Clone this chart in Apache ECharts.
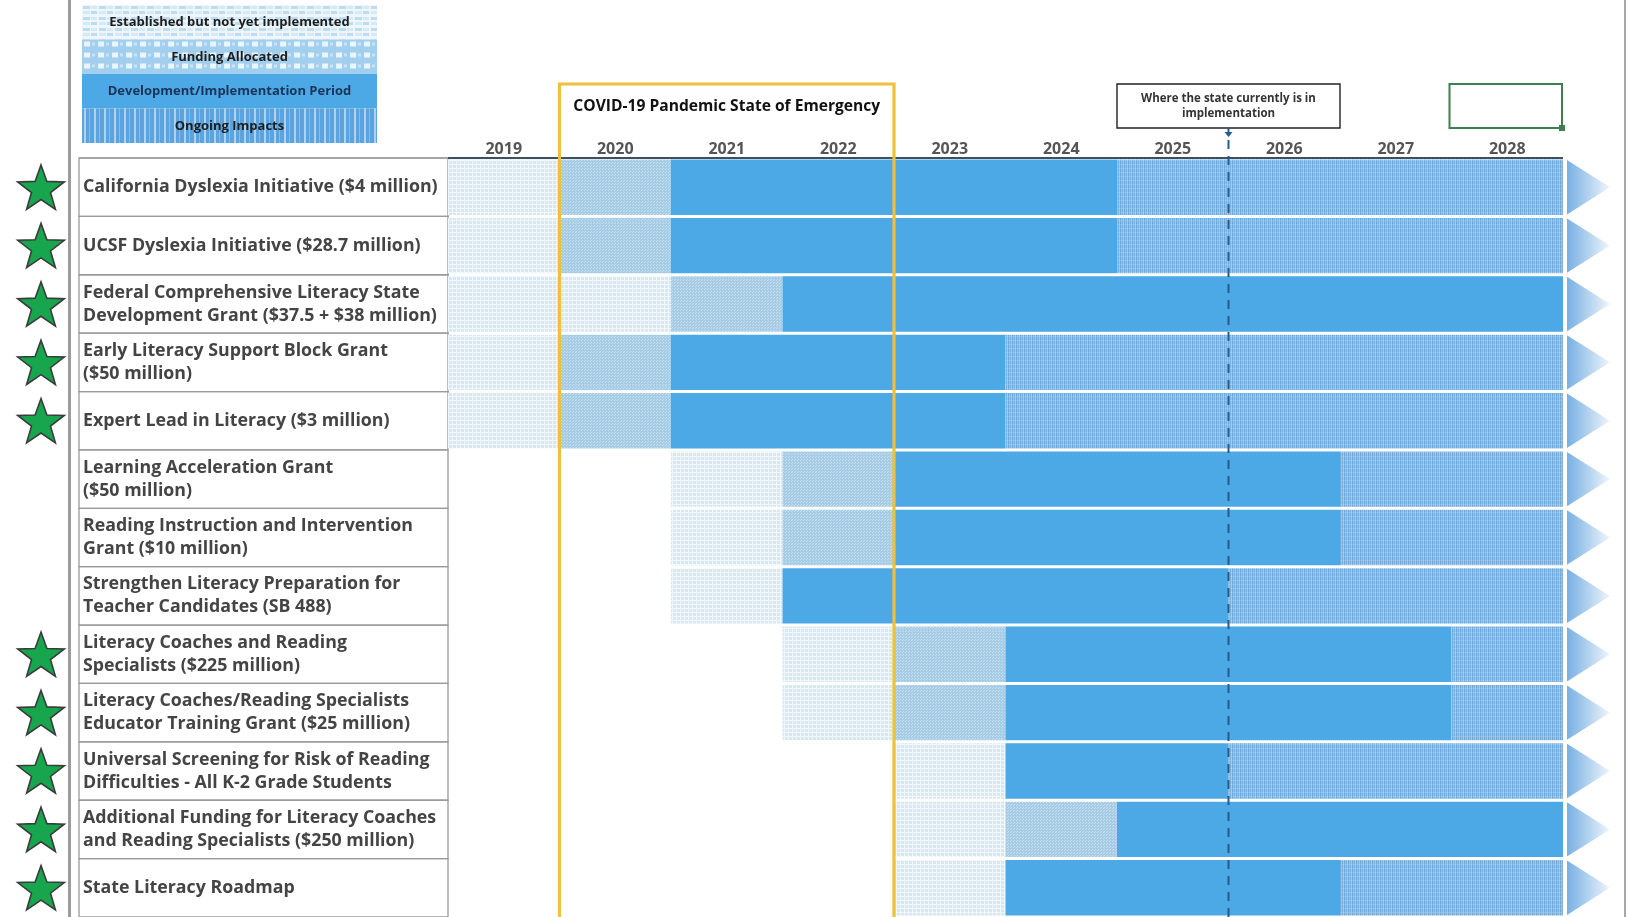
<!DOCTYPE html>
<html><head><meta charset="utf-8">
<script src="https://cdn.jsdelivr.net/npm/echarts@6/dist/echarts.min.js"></script>
<style>html,body{margin:0;padding:0;background:#fff}#c{width:1633px;height:917px}</style>
</head><body><div id="c"></div>
<script>
// ---------- DATA ----------
const years = ['2019','2020','2021','2022','2023','2024','2025','2026','2027','2028'];
const programs = [
  'California Dyslexia Initiative ($4 million)',
  'UCSF Dyslexia Initiative ($28.7 million)',
  'Federal Comprehensive Literacy State\nDevelopment Grant ($37.5 + $38 million)',
  'Early Literacy Support Block Grant\n($50 million)',
  'Expert Lead in Literacy ($3 million)',
  'Learning Acceleration Grant\n($50 million)',
  'Reading Instruction and Intervention\nGrant ($10 million)',
  'Strengthen Literacy Preparation for\nTeacher Candidates (SB 488)',
  'Literacy Coaches and Reading\nSpecialists ($225 million)',
  'Literacy Coaches/Reading Specialists\nEducator Training Grant ($25 million)',
  'Universal Screening for Risk of Reading\nDifficulties - All K-2 Grade Students',
  'Additional Funding for Literacy Coaches\nand Reading Specialists ($250 million)',
  'State Literacy Roadmap'
];
// [first year, last year] of each phase per program (null = phase absent)
const established = [['2019','2019'],['2019','2019'],['2019','2020'],['2019','2019'],['2019','2019'],['2021','2021'],['2021','2021'],['2021','2021'],['2022','2022'],['2022','2022'],['2023','2023'],['2023','2023'],['2023','2023']];
const funding     = [['2020','2020'],['2020','2020'],['2021','2021'],['2020','2020'],['2020','2020'],['2022','2022'],['2022','2022'],null,['2023','2023'],['2023','2023'],null,['2024','2024'],null];
const development = [['2021','2024'],['2021','2024'],['2022','2028'],['2021','2023'],['2021','2023'],['2023','2026'],['2023','2026'],['2022','2025'],['2024','2027'],['2024','2027'],['2024','2025'],['2025','2028'],['2024','2026']];
const ongoing     = [['2025','2028'],['2025','2028'],null,['2024','2028'],['2024','2028'],['2027','2028'],['2027','2028'],['2026','2028'],['2028','2028'],['2028','2028'],['2026','2028'],null,['2027','2028']];
const starred     = [1,1,1,1,1,0,0,0,1,1,1,1,1];
const emergencyYears = ['2020','2022'];
const currentThrough = '2025';
const legendItems = ['Established but not yet implemented','Funding Allocated','Development/Implementation Period','Ongoing Impacts'];
const emergencyTitle = 'COVID-19 Pandemic State of Emergency';
const currentNote = 'Where the state currently is in\nimplementation';

// ---------- STYLE HELPERS ----------
const FONT = '"Open Sans", Lato, sans-serif';
function pattern(w, h, draw) {
  const c = document.createElement('canvas'); c.width = w; c.height = h;
  const g = c.getContext('2d'); draw(g);
  return { type: 'pattern', image: c, repeat: 'repeat' };
}
const fillEst = pattern(4, 4, g => { g.fillStyle = '#D9E8EF'; g.fillRect(0,0,4,4); g.fillStyle = '#F1F7FA'; g.fillRect(0,0,4,1); g.fillRect(0,0,1,4); });
const fillFund = pattern(3, 3, g => { g.fillStyle = '#A6CCE6'; g.fillRect(0,0,3,3); g.fillStyle = '#C6DFEF'; g.fillRect(0,0,1,1); g.fillRect(2,1,1,1); });
const fillDev = '#4DA8E6';
const fillOng = pattern(4, 4, g => { const cs = ['#6EA8DA','#93C0E7','#78B0DE','#A0C8EA']; cs.forEach((c,i)=>{ g.fillStyle=c; g.fillRect(i,0,1,4); }); g.fillStyle='rgba(255,255,255,0.15)'; g.fillRect(0,0,4,1); });
const legEst = pattern(16, 11, g => { g.fillStyle = '#EEF6FB'; g.fillRect(0,0,16,11); g.fillStyle = '#BCDDF0'; g.fillRect(1,1,7,3); g.fillRect(9,6,6,3); g.fillStyle='#D6EAF6'; g.fillRect(9,1,6,3); g.fillRect(1,6,7,3); });
const legFund = pattern(14, 11, g => { g.fillStyle = '#A3CFEE'; g.fillRect(0,0,14,11); g.fillStyle = '#EAF5FC'; g.fillRect(2,2,6,5); g.fillStyle='#C8E3F5'; g.fillRect(10,3,3,3); });
const legOng = pattern(10, 6, g => { g.fillStyle = '#5BA4DF'; g.fillRect(0,0,10,6); g.fillStyle = '#AED3F1'; g.fillRect(2,0,2,6); g.fillStyle='#84BBE8'; g.fillRect(7,0,1,6); });

const idx = y => years.indexOf(y);
function spans(arr) {
  const out = [];
  arr.forEach((s, r) => { if (s) out.push([idx(s[0]), r, idx(s[1])]); });
  return out;
}
function phaseRender(fill) {
  return function (params, api) {
    const s = api.value(0), r = api.value(1), e = api.value(2);
    const p0 = api.coord([s, r]), p1 = api.coord([e, r]);
    const sz = api.size([1, 1]);
    const x0 = p0[0] - sz[0] / 2, x1 = p1[0] + sz[0] / 2;
    return { type: 'rect', shape: { x: x0, y: p0[1] - sz[1] / 2 + 1.5, width: x1 - x0, height: sz[1] - 3 }, style: { fill: fill } };
  };
}
function starPoints(cx, cy, R, rr) {
  const pts = [];
  for (let i = 0; i < 10; i++) {
    const a = (-90 + i * 36) * Math.PI / 180, rad = i % 2 ? rr : R;
    pts.push([cx + rad * Math.cos(a), cy + rad * Math.sin(a)]);
  }
  return pts;
}

const chart = echarts.init(document.getElementById('c'));
const GRID = { left: 448, top: 158, width: 1115, height: 762 };

function rowRender(params, api) {
  const r = api.value(1), star = api.value(2);
  const cs = params.coordSys;
  const p = api.coord([0, r]);
  const h = api.size([1, 1])[1];
  const top = p[1] - h / 2, bot = p[1] + h / 2;
  const right = cs.x + cs.width;
  const children = [
    { type: 'rect', shape: { x: 79, y: top, width: cs.x - 79, height: h }, style: { fill: 'none', stroke: '#9A9A9A', lineWidth: 1.3 } },
    { type: 'polygon', shape: { points: [[right + 4, top + 2], [right + 4, bot - 2], [right + 47, p[1]]] },
      style: { fill: new echarts.graphic.LinearGradient(0, 0, 1, 0, [{ offset: 0, color: '#78B0E3' }, { offset: 1, color: '#EEF5FC' }]) } }
  ];
  if (star) {
    children.push({ type: 'polygon', shape: { points: starPoints(41, p[1] + 2.3, 24.5, 10) }, style: { fill: '#17A64E', stroke: '#3B3B3B', lineWidth: 1.6 } });
  }
  return { type: 'group', children };
}

function decoRender(params, api) {
  const cs = params.coordSys;
  const bw = api.size([1, 1])[0];
  const a = api.coord([idx(emergencyYears[0]), 0])[0] - bw / 2;
  const b = api.coord([idx(emergencyYears[1]), 0])[0] + bw / 2;
  const cx = api.coord([idx(currentThrough), 0])[0] + bw / 2;
  const last = api.coord([years.length - 1, 0])[0];
  const gx0 = last - bw / 2 - 2, gx1 = last + bw / 2 - 1;
  return { type: 'group', children: [
    { type: 'line', shape: { x1: 79, y1: cs.y, x2: cs.x, y2: cs.y }, style: { stroke: '#A0A0A0', lineWidth: 1.5 } },
    { type: 'line', shape: { x1: cs.x, y1: cs.y, x2: cs.x + cs.width, y2: cs.y }, style: { stroke: '#3E4F5E', lineWidth: 2.2 } },
    { type: 'line', shape: { x1: cx, y1: 140, x2: cx, y2: 917 }, style: { stroke: '#245A8C', lineWidth: 2, lineDash: [9, 7] } },
    { type: 'rect', shape: { x: a, y: 84, width: b - a, height: 900 }, style: { fill: 'none', stroke: '#EEC03C', lineWidth: 3.2 } },
    { type: 'text', style: { x: (a + b) / 2, y: 107, text: emergencyTitle, align: 'center', verticalAlign: 'middle', fill: '#111', font: 'bold 15.6px ' + FONT } },
    { type: 'rect', shape: { x: cx - 111.5, y: 84, width: 223, height: 44 }, style: { fill: '#fff', stroke: '#222', lineWidth: 1.4 } },
    { type: 'text', style: { x: cx, y: 106, text: currentNote, align: 'center', verticalAlign: 'middle', fill: '#333', font: 'bold 11.5px ' + FONT, lineHeight: 15 } },
    { type: 'line', shape: { x1: cx, y1: 128, x2: cx, y2: 133 }, style: { stroke: '#245A8C', lineWidth: 2 } },
    { type: 'polygon', shape: { points: [[cx - 4, 132], [cx + 4, 132], [cx, 137]] }, style: { fill: '#245A8C' } },
    { type: 'rect', shape: { x: gx0, y: 84, width: gx1 - gx0, height: 44 }, style: { fill: 'none', stroke: '#3E7E50', lineWidth: 2 } },
    { type: 'rect', shape: { x: gx1 - 3, y: 125, width: 6, height: 6 }, style: { fill: '#3E7E50' } }
  ] };
}

const legendFills = [legEst, legFund, fillDev, legOng];
const legendColors = ['#1E1E1E', '#1E1E1E', '#1A3458', '#1E1E1E'];
const legendGraphics = [];
legendItems.forEach((t, i) => {
  legendGraphics.push({ type: 'rect', left: 82, top: 5 + i * 34.5, shape: { width: 295, height: 34.5 }, style: { fill: legendFills[i] } });
  legendGraphics.push({ type: 'text', x: 229.5, y: 5 + i * 34.5 + 17.5, style: { text: t, align: 'center', verticalAlign: 'middle', fill: legendColors[i], font: 'bold 13px ' + FONT } });
});

chart.setOption({
  backgroundColor: '#fff',
  animation: false,
  grid: GRID,
  xAxis: { type: 'category', data: years, position: 'top',
    axisLine: { show: false }, axisTick: { show: false }, splitLine: { show: false },
    axisLabel: { margin: 1, color: '#555', fontSize: 16, fontWeight: 'bold', fontFamily: FONT } },
  yAxis: { type: 'category', data: programs, inverse: true,
    axisLine: { show: false }, axisTick: { show: false }, splitLine: { show: false },
    axisLabel: { align: 'left', margin: 365, color: '#444', fontSize: 17.8, fontWeight: 'bold', fontFamily: FONT, lineHeight: 23, padding: [4, 0, 0, 0] } },
  graphic: [
    { type: 'rect', left: 68, top: 0, shape: { width: 3, height: 917 }, style: { fill: '#9C9C9C' } },
    { type: 'rect', left: 1624, top: 0, shape: { width: 2, height: 917 }, style: { fill: '#A8A8A8' } },
    ...legendGraphics
  ],
  series: [
    { type: 'custom', name: 'rows', z: 1, renderItem: rowRender, data: programs.map((p, r) => [0, r, starred[r]]) },
    { type: 'custom', name: 'Established but not yet implemented', z: 2, renderItem: phaseRender(fillEst), data: spans(established) },
    { type: 'custom', name: 'Funding Allocated', z: 2, renderItem: phaseRender(fillFund), data: spans(funding) },
    { type: 'custom', name: 'Development/Implementation Period', z: 2, renderItem: phaseRender(fillDev), data: spans(development) },
    { type: 'custom', name: 'Ongoing Impacts', z: 2, renderItem: phaseRender(fillOng), data: spans(ongoing) },
    { type: 'custom', name: 'deco', z: 5, renderItem: decoRender, data: [[0, 0]] }
  ]
});
</script></body></html>
